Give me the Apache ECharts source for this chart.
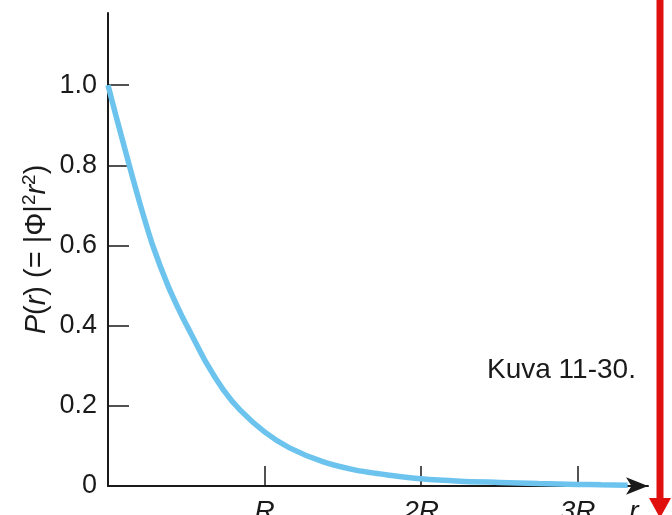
<!DOCTYPE html>
<html>
<head>
<meta charset="utf-8">
<title>Kuva 11-30</title>
<script src="https://cdn.jsdelivr.net/npm/echarts@6/dist/echarts.min.js"></script>
<style>
	html,body{margin:0;padding:0;background:#fff;}
	#p_r{width:672px;height:515px;}
</style>
</head>
<body>
<div id="p_r"></div>
<script>
//r in units of R
var rValues = [0, 0.05, 0.136, 0.2, 0.286, 0.383, 0.471, 0.524, 0.631, 0.737, 0.843, 1.0, 1.16, 1.376, 1.59, 1.8, 2.0, 2.25, 2.5, 2.75, 3.0, 3.15, 3.32];
//P(r) values
var pValues = [1.0, 0.925, 0.8, 0.71, 0.6, 0.5, 0.425, 0.385, 0.305, 0.24, 0.19, 0.135, 0.095, 0.06, 0.039, 0.027, 0.018, 0.012, 0.009, 0.006, 0.004, 0.003, 0.002];
//tick labels
var xTicks = [1, 2, 3];
var xTickNames = ["R", "2R", "3R"];
var yTicks = [0.2, 0.4, 0.6, 0.8, 1.0];
var yLabels = [0, 0.2, 0.4, 0.6, 0.8, 1.0];

var FONT = "Liberation Sans, Arial, sans-serif";
var INK = "#1a1a1a";

var chart = echarts.init(document.getElementById("p_r"));

var lineData = [];
for(var i=0;i<rValues.length;i++){
	lineData.push([rValues[i], pValues[i]]);
}

var option = {
	animation: false,
	grid: {left: 108, top: 13, right: 24, bottom: 29, containLabel: false, outerBoundsMode: 'none'},
	xAxis: {
		type: 'value',
		min: 0,
		max: 3.45,
		name: 'r',
		nameLocation: 'end',
		nameGap: -14,
		nameMoveOverlap: false,
		nameTextStyle: {
			fontFamily: FONT, fontSize: 28, fontStyle: 'italic', color: INK,
			align: 'center', verticalAlign: 'top', padding: [12, 0, 0, 0]
		},
		axisLine: {
			show: true,
			symbol: ['none', 'arrow'],
			symbolSize: [13, 22],
			lineStyle: {color: INK, width: 2}
		},
		axisTick: {show: true, inside: true, length: 20, customValues: xTicks, lineStyle: {color: INK, width: 1.5}},
		axisLabel: {
			customValues: xTicks,
			margin: 12,
			fontFamily: FONT, fontSize: 28, fontStyle: 'italic', color: INK,
			formatter: function(v){
				var k = xTicks.indexOf(Math.round(v));
				return k >= 0 ? xTickNames[k] : '';
			}
		},
		splitLine: {show: false}
	},
	yAxis: {
		type: 'value',
		min: 0,
		max: 1.18,
		name: '{i|P}({i|r}) (= |Φ|{s|2}{i|r}{s|2})',
		nameLocation: 'middle',
		nameRotate: 90,
		nameGap: 54,
		nameMoveOverlap: false,
		nameTextStyle: {
			fontFamily: FONT, fontSize: 29, color: INK,
			rich: {
				i: {fontFamily: FONT, fontSize: 29, fontStyle: 'italic', color: INK},
				s: {fontFamily: FONT, fontSize: 19, color: INK, verticalAlign: 'top', lineHeight: 34}
			}
		},
		axisLine: {show: true, lineStyle: {color: INK, width: 2}},
		axisTick: {show: true, inside: true, length: 21, customValues: yTicks, lineStyle: {color: INK, width: 1.5}},
		axisLabel: {
			customValues: yLabels,
			margin: 11,
			fontFamily: FONT, fontSize: 27, color: INK,
			formatter: function(v){
				return v === 0 ? '0' : v.toFixed(1);
			}
		},
		splitLine: {show: false}
	},
	series: [
		{
			name: 'P(r)',
			type: 'line',
			data: lineData,
			showSymbol: false,
			smooth: 0.25,
			lineStyle: {color: '#6cc4ee', width: 5.5},
			z: 1
		}
	],
	graphic: [
		{
			type: 'text',
			left: 487,
			top: 356,
			style: {text: 'Kuva 11-30.', fontFamily: FONT, fontSize: 28, fill: INK}
		},
		//red arrow on the right edge
		{
			type: 'rect',
			shape: {x: 656.5, y: 0, width: 7, height: 502},
			style: {fill: '#e0100f'}
		},
		{
			type: 'polygon',
			shape: {points: [[649, 498], [671, 498], [660, 518]]},
			style: {fill: '#e0100f'}
		}
	]
};

chart.setOption(option);
</script>
</body>
</html>
